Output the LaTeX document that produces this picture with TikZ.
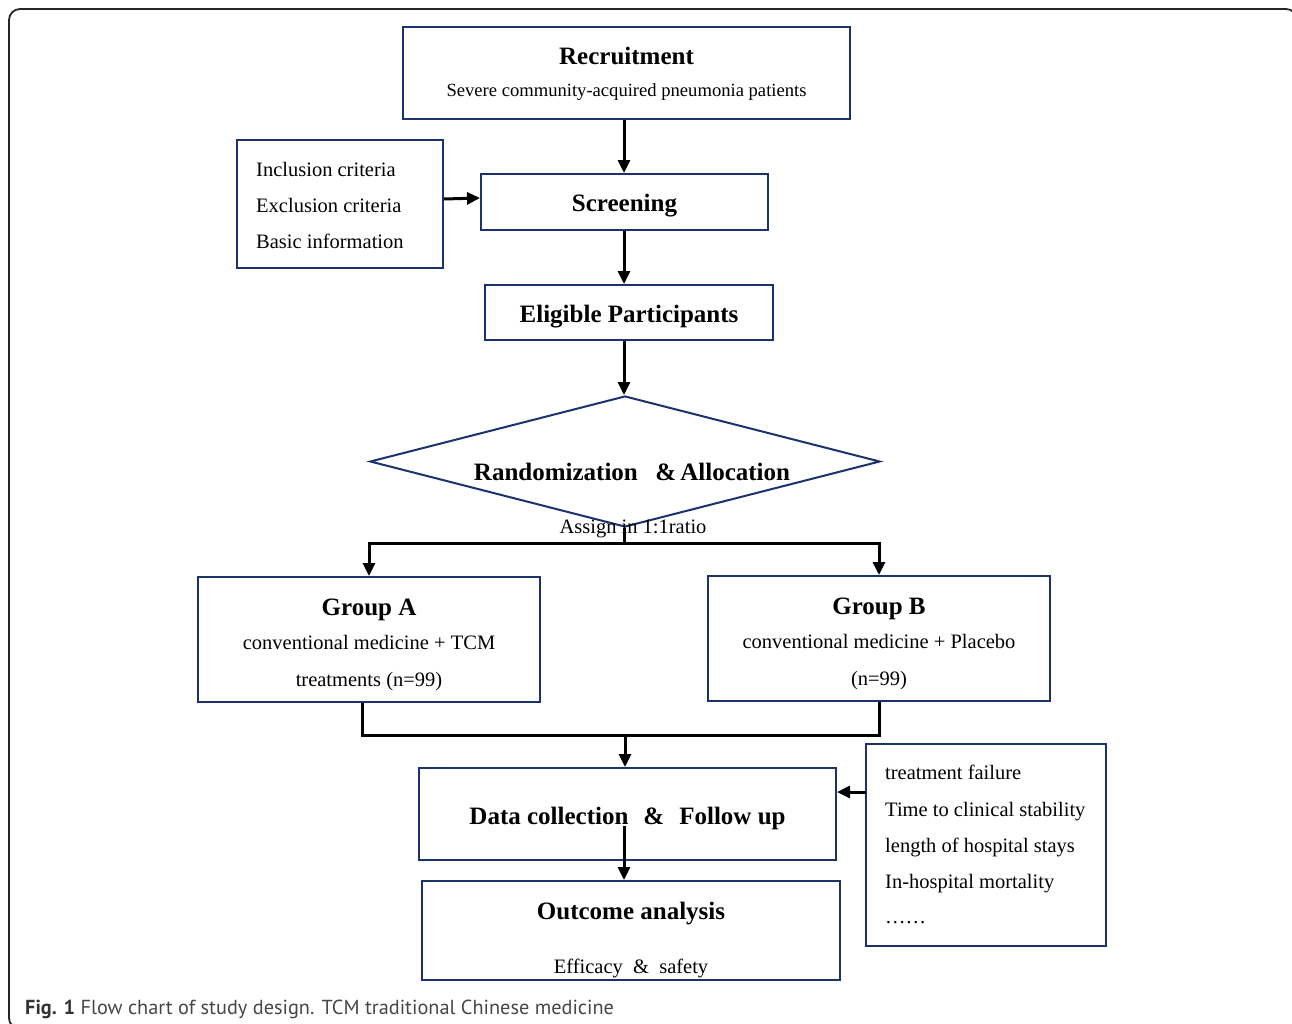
\documentclass[tikz,border=0pt]{standalone}
\usepackage{fontspec}
\setmainfont{Liberation Serif}
\newfontfamily\capfont{PT Sans}
\usetikzlibrary{arrows.meta,shapes.geometric}
\definecolor{navy}{RGB}{28,50,110}
\definecolor{capgray}{RGB}{70,70,70}
\tikzset{
  box/.style={draw=navy,line width=2pt,inner sep=0pt,fill=none},
  conn/.style={line width=3pt,draw=black},
  arr/.style={conn,-{Triangle[length=13pt,width=12pt]}},
  ttl/.style={inner sep=0pt,anchor=base,font=\fontsize{25}{28}\selectfont\bfseries},
  txt/.style={inner sep=0pt,anchor=base,font=\fontsize{20.5}{24}\selectfont},
  ltxt/.style={txt,anchor=base west},
  sub/.style={inner sep=0pt,anchor=base,font=\fontsize{18.6}{22}\selectfont},
}
\begin{document}
\begin{tikzpicture}[x=1pt,y=-1pt]
\useasboundingbox (0,0) rectangle (1292,1023);
\begin{scope}
\clip (0,0) rectangle (1292,1023);
\draw[line width=1.8pt,draw=black!85,rounded corners=11pt] (9,9) rectangle (1297,1029);
\end{scope}
\coordinate (spine) at (624,0);
% boxes
\node[box,minimum width=447,minimum height=92] (rec) at (626.5,73) {};
\node[ttl] (rect) at (626.5,64.5) {Recruitment};
\node[sub] (recs) at (626.5,96.5) {Severe community-acquired pneumonia patients};

\node[box,minimum width=206,minimum height=128] (crit) at (340,204) {};
\node[ltxt] (c1) at (256,176) {Inclusion criteria};
\node[ltxt] (c2) at (256,212) {Exclusion criteria};
\node[ltxt] (c3) at (256,248) {Basic information};

\node[box,minimum width=287,minimum height=56] (scr) at (624.5,202) {};
\node[ttl] (scrt) at (624.5,211) {Screening};

\node[box,minimum width=288,minimum height=55] (elig) at (629,312.5) {};
\node[ttl] (eligt) at (629,322.5) {Eligible Participants};

\node[draw=navy,line width=2pt,shape=diamond,inner sep=0pt,minimum width=510,minimum height=131] (dia) at (625,461.5) {};
\node[ttl] (diat) at (632,480.5) {Randomization\hspace{0.7em}\&\,Allocation};
\node[txt] (assign) at (633,533) {Assign in 1:1ratio};

\node[box,minimum width=342,minimum height=125] (ga) at (369,639.5) {};
\node[ttl] (gat) at (369,615.5) {Group A};
\node[txt] (ga1) at (369,649) {conventional medicine + TCM};
\node[txt] (ga2) at (369,686.5) {treatments (n=99)};

\node[box,minimum width=342,minimum height=125] (gb) at (879,638.5) {};
\node[ttl] (gbt) at (879,614.5) {Group B};
\node[txt] (gb1) at (879,648) {conventional medicine + Placebo};
\node[txt] (gb2) at (879,685.5) {(n=99)};

\node[box,minimum width=417,minimum height=92] (data) at (627.5,814) {};
\node[ttl] (datat) at (627.5,824) {Data collection\hspace{0.6em}\&\hspace{0.6em}Follow up};

\node[box,minimum width=418,minimum height=99] (out) at (631,930.5) {};
\node[ttl] (outt) at (631,919.5) {Outcome analysis};
\node[txt] (outs) at (631,973) {Efficacy\hspace{0.5em}\&\hspace{0.5em}safety};

\node[box,minimum width=240,minimum height=202] (res) at (986,845) {};
\node[ltxt] (r1) at (885,779) {treatment failure};
\node[ltxt] (r2) at (885,816.5) {Time to clinical stability};
\node[ltxt] (r3) at (885,852) {length of hospital stays};
\node[ltxt] (r4) at (885,888.5) {In-hospital mortality};
\node[ltxt] (r5) at (885,923) {\ldots\ldots};

% caption
\node[anchor=west,inner sep=0pt,font=\capfont\fontsize{20.3}{24}\selectfont,text=capgray] (cap) at (25,1009)
  {\textbf{\color{black!80}Fig. 1} Flow chart of study design. TCM traditional Chinese medicine};

% connectors
\coordinate (split) at (624,543);
\coordinate (merge) at (625,735);
\coordinate (dstart) at (624,826);
\coordinate (rarr) at (866,792);
\draw[arr] (rec.south -| spine) -- (scr.north -| spine);
\draw[arr] (crit.east |- 0,199) -- (scr.west |- 0,198);
\draw[arr] (scr.south -| spine) -- (elig.north -| spine);
\draw[arr] (elig.south -| spine) -- (dia.north -| spine);
\draw[conn] (dia.south -| spine) -- (split);
\draw[conn,line cap=rect] (split -| ga.north) -- (split -| gb.north);
\draw[arr] (split -| ga.north) -- (ga.north);
\draw[arr] (split -| gb.north) -- (gb.north);
\draw[conn] (ga.south -| 362,0) -- (merge -| 362,0) -- (merge -| gb.south) -- (gb.south);
\draw[arr] (merge) -- (data.north -| merge);
\draw[arr] (dstart) -- (out.north -| dstart);
\draw[arr] (rarr) -- (data.east |- rarr);
\end{tikzpicture}
\end{document}
